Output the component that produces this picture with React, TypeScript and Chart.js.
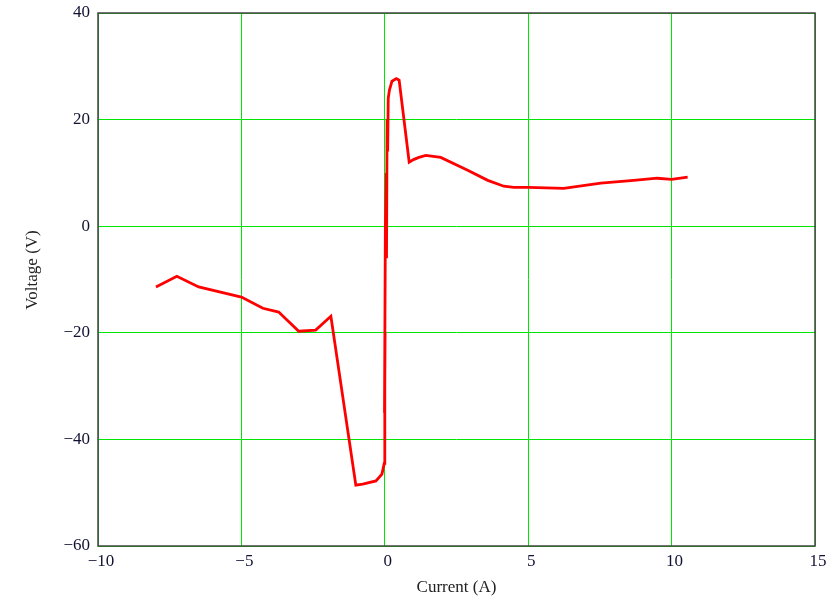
import React, { useEffect, useRef } from "react";
import { Chart, registerables } from "chart.js";

Chart.register(...registerables);

const currentA: number[] = [
  -7.98, -7.25, -6.49, -5.0, -4.25, -3.7, -3.0, -2.41, -1.88, -1.01, -0.77, -0.31, -0.1, -0.02,
  0.0, 0.01, -0.01, 0.02, 0.05, 0.06, 0.08, 0.1, 0.12, 0.16, 0.25, 0.4, 0.5, 0.85, 1.0, 1.19,
  1.43, 1.95, 2.89, 3.59, 4.15, 4.5, 5.0, 6.24, 7.53, 8.68, 9.5, 10.0, 10.56,
];
const voltageV: number[] = [
  -11.4, -9.4, -11.4, -13.3, -15.4, -16.1, -19.7, -19.5, -16.9, -48.6, -48.4, -47.8, -46.5, -44.5,
  -30, -20, -35, 0, 10, -6, 20, 14, 24, 25.5, 27.2, 27.7, 27.4, 12.0, 12.5, 12.9,
  13.3, 12.9, 10.5, 8.6, 7.5, 7.3, 7.3, 7.1, 8.1, 8.6, 9.0, 8.8, 9.2,
];
const xTicks: number[] = [-10, -5, 0, 5, 10, 15];
const yTicks: number[] = [-60, -40, -20, 0, 20, 40];

const fmt = (v: number) => (v < 0 ? "\u2212" + Math.abs(v) : String(v));

const framePlugin = {
  id: "frame",
  afterDraw(chart: any) {
    const { ctx, chartArea } = chart;
    ctx.save();
    ctx.strokeStyle = "#444444";
    ctx.lineWidth = 1.5;
    ctx.strokeRect(chartArea.left, chartArea.top, chartArea.right - chartArea.left, chartArea.bottom - chartArea.top);
    ctx.fillStyle = "#222222";
    ctx.font = "17px 'Liberation Serif', 'DejaVu Serif', serif";
    ctx.textAlign = "center";
    ctx.textBaseline = "middle";
    ctx.fillText("Current (A)", (chartArea.left + chartArea.right) / 2, 588);
    ctx.translate(33, 270);
    ctx.rotate(-Math.PI / 2);
    ctx.fillText("Voltage (V)", 0, 0);
    ctx.restore();
  },
};

export default function App() {
  const ref = useRef<HTMLCanvasElement | null>(null);
  useEffect(() => {
    if (!ref.current) return;
    const data = currentA.map((x, i) => ({ x, y: voltageV[i] }));
    const chart = new Chart(ref.current, {
      type: "scatter",
      data: {
        datasets: [
          {
            data,
            showLine: true,
            borderColor: "#ff0000",
            backgroundColor: "#ff0000",
            borderWidth: 2.8,
            pointRadius: 0,
            tension: 0,
          },
        ],
      },
      options: {
        animation: false,
        responsive: false,
        layout: { padding: { top: 13, right: 18, left: 0, bottom: 0 } },
        plugins: { legend: { display: false }, tooltip: { enabled: false } },
        scales: {
          x: {
            type: "linear",
            min: -10,
            max: 15,
            afterBuildTicks: (s: any) => {
              s.ticks = xTicks.map((v) => ({ value: v }));
            },
            afterFit: (s: any) => {
              s.height = 54;
              s.paddingLeft = 0;
              s.paddingRight = 0;
            },
            grid: { color: "#00e600", lineWidth: 1, drawTicks: false },
            border: { display: false },
            ticks: {
              color: "#111133",
              padding: 5,
              labelOffset: 3,
              maxRotation: 0,
              font: { family: "'Liberation Serif', serif", size: 17 },
              callback: (v: any) => fmt(Number(v)),
            },
          },
          y: {
            type: "linear",
            min: -60,
            max: 40,
            afterBuildTicks: (s: any) => {
              s.ticks = yTicks.map((v) => ({ value: v }));
            },
            afterFit: (s: any) => {
              s.width = 98;
              s.paddingTop = 0;
              s.paddingBottom = 0;
            },
            grid: { color: "#00e600", lineWidth: 1, drawTicks: false },
            border: { display: false },
            ticks: {
              color: "#111133",
              padding: 8,
              font: { family: "'Liberation Serif', serif", size: 17 },
              callback: (v: any) => fmt(Number(v)),
            },
          },
        },
      },
      plugins: [framePlugin],
    });
    return () => chart.destroy();
  }, []);
  return (
    <div style={{ position: "fixed", left: 0, top: 0, width: 833, height: 600, background: "#fff" }}>
      <canvas ref={ref} width={833} height={600} style={{ width: 833, height: 600 }} />
    </div>
  );
}
